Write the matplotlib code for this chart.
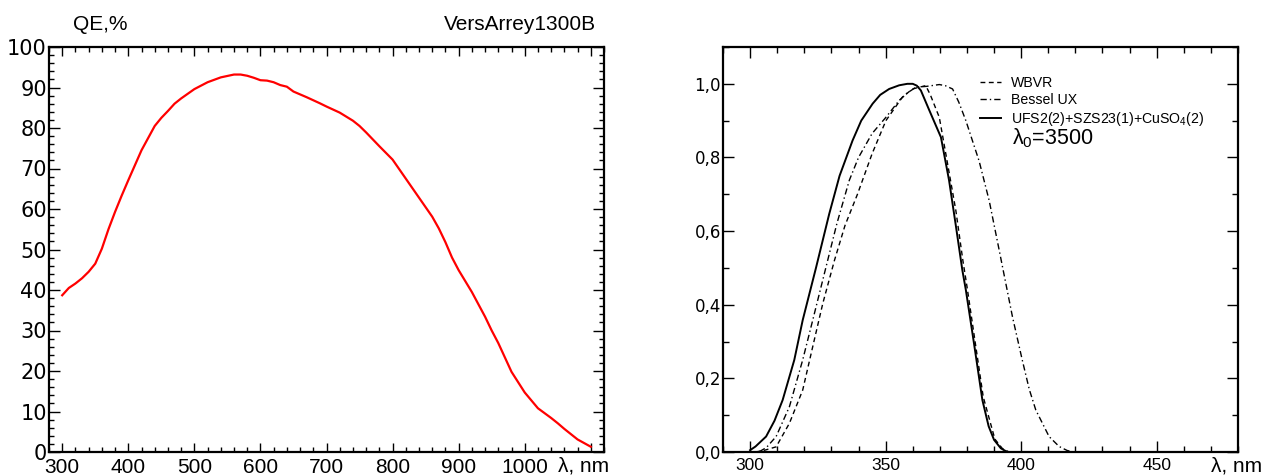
import matplotlib
matplotlib.use("Agg")
import matplotlib.pyplot as plt
from matplotlib.ticker import MultipleLocator, FuncFormatter

plt.rcParams['font.family'] = ['Liberation Sans', 'DejaVu Sans']
plt.rcParams['mathtext.fontset'] = 'custom'
plt.rcParams['mathtext.rm'] = 'Liberation Sans'
plt.rcParams['mathtext.it'] = 'Liberation Sans'
plt.rcParams['mathtext.bf'] = 'Liberation Sans'

# ---------- data: left panel (QE of VersArrey1300B) ----------
qe_wl = [300, 310, 320, 330, 340, 350, 360, 370, 380, 390, 400, 420, 440, 450,
         460, 470, 480, 500, 520, 540, 560, 570, 580, 590, 600, 610, 620, 630,
         640, 650, 670, 690, 700, 720, 740, 750, 760, 780, 800, 820, 840, 860,
         870, 880, 890, 900, 920, 940, 950, 960, 980, 1000, 1020, 1040, 1050,
         1060, 1080, 1100]
qe_val = [38.7, 40.5, 41.6, 42.9, 44.5, 46.5, 50.2, 55.0, 59.3, 63.3, 67.1,
          74.5, 80.5, 82.5, 84.2, 86.0, 87.3, 89.6, 91.3, 92.5, 93.2, 93.2,
          92.9, 92.4, 91.8, 91.7, 91.3, 90.6, 90.2, 89.0, 87.6, 86.1, 85.3,
          83.8, 81.8, 80.5, 78.9, 75.5, 72.2, 67.5, 62.8, 58.1, 55.2, 51.8,
          48.0, 44.9, 39.5, 33.4, 30.0, 26.9, 19.8, 14.7, 10.8, 8.4, 7.1, 5.7,
          3.1, 1.3]

# ---------- data: right panel (normalized passbands) ----------
wbvr_wl = [302, 305, 309.6, 314.5, 319.4, 323.1, 326.8, 331.1, 335, 339.6,
           345, 350.1, 356.2, 359.9, 362, 364.8, 366.5, 369.8, 372.2, 375.9,
           378.5, 380, 383, 386, 390.3, 393, 395.5]
wbvr_val = [0.0, 0.004, 0.014, 0.078, 0.168, 0.286, 0.403, 0.52, 0.615, 0.70,
            0.81, 0.90, 0.964, 0.986, 0.99, 0.995, 0.97, 0.909, 0.81, 0.656,
            0.52, 0.45, 0.30, 0.15, 0.035, 0.01, 0.0]

bessel_wl = [303.4, 306, 309.6, 314.5, 319.4, 323.1, 328.6, 332, 336.6, 340,
             345, 350.1, 355, 358, 361.2, 365, 369.8, 372, 374.7, 377, 379.6,
             384.5, 388.2, 391.9, 396.8, 400.4, 403, 405.4, 410.3, 414, 417,
             419.5]
bessel_val = [0.001, 0.012, 0.042, 0.123, 0.25, 0.358, 0.52, 0.62, 0.738, 0.80,
              0.865, 0.909, 0.955, 0.975, 0.991, 0.993, 0.998, 0.995, 0.986,
              0.95, 0.90, 0.79, 0.683, 0.548, 0.367, 0.25, 0.17, 0.114, 0.042,
              0.015, 0.004, 0.0]

ufs_wl = [300, 302, 305.9, 309, 312, 316.3, 319.4, 324.3, 329.2, 333, 337.8,
          341, 345.2, 348, 351.3, 355, 358, 360, 361.5, 363, 366, 370.4, 373.4,
          376, 378.3, 379.6, 382.6, 385.7, 388, 390, 392.5, 394.9]
ufs_val = [0.005, 0.015, 0.042, 0.085, 0.141, 0.25, 0.358, 0.50, 0.647, 0.75,
           0.846, 0.90, 0.946, 0.97, 0.986, 0.996, 1.0, 1.0, 0.995, 0.982,
           0.93, 0.855, 0.738, 0.61, 0.494, 0.44, 0.295, 0.141, 0.07, 0.033,
           0.01, 0.0]

labels = ['WBVR', 'Bessel UX', 'UFS2(2)+SZS23(1)+CuSO$_4$(2)']

W, H = 1266, 476
fig = plt.figure(figsize=(W / 100, H / 100), dpi=100)

def fx(px):
    return px / W

def fy(py):
    return 1 - py / H

# ---------- left panel ----------
axL = fig.add_axes([fx(49), fy(452), fx(604 - 49), (452 - 47) / H])
axL.plot(qe_wl, qe_val, color='#ff0000', lw=1.6)
axL.set_xlim(280, 1120)
axL.set_ylim(0, 100)
axL.xaxis.set_minor_locator(MultipleLocator(20))
axL.yaxis.set_major_locator(MultipleLocator(10))
axL.yaxis.set_minor_locator(MultipleLocator(2))
axL.set_xticks([300, 400, 500, 600, 700, 800, 900, 1000, 1100])
axL.set_xticklabels(['300', '400', '500', '600', '700', '800', '900', '1000', ''])
axL.tick_params(which='both', direction='in', top=True, right=True, width=1.0)
axL.tick_params(axis='x', which='major', length=6.5, labelsize=15, pad=4)
axL.tick_params(axis='y', which='major', length=8, pad=1.5)
axL.tick_params(which='minor', length=3.5)
for lab in axL.get_yticklabels():
    lab.set_fontfamily('DejaVu Sans')
    lab.set_fontsize(15)
for s in axL.spines.values():
    s.set_linewidth(1.6)
fig.text(fx(73), fy(25), 'QE,%', fontsize=15, ha='left', va='center')
fig.text(fx(596), fy(25), 'VersArrey1300B', fontsize=15, ha='right', va='center')
fig.text(fx(558), fy(466), 'λ, nm', fontsize=15, ha='left', va='center')

# ---------- right panel ----------
axR = fig.add_axes([fx(723), fy(452), fx(1238 - 723), (452 - 47) / H])
l1, = axR.plot(wbvr_wl, wbvr_val, color='black', lw=1.0, ls=(0, (3.5, 2.5)))
l2, = axR.plot(bessel_wl, bessel_val, color='black', lw=1.0,
               ls=(0, (4.5, 2.2, 1.0, 2.2)))
l3, = axR.plot(ufs_wl, ufs_val, color='black', lw=1.4)
axR.set_xlim(290, 480)
axR.set_ylim(0, 1.1)
axR.xaxis.set_major_locator(MultipleLocator(50))
axR.xaxis.set_minor_locator(MultipleLocator(10))
axR.yaxis.set_major_locator(MultipleLocator(0.2))
axR.yaxis.set_minor_locator(MultipleLocator(0.1))
axR.yaxis.set_major_formatter(FuncFormatter(lambda v, p: f"{v:.1f}".replace('.', ',')))
axR.tick_params(which='both', direction='in', top=True, right=True, width=1.0)
axR.tick_params(which='major', length=8)
axR.tick_params(axis='x', which='major', labelsize=12.5, pad=4)
axR.tick_params(axis='y', which='major', pad=1.5)
axR.tick_params(which='minor', length=4)
for lab in axR.get_yticklabels():
    lab.set_fontfamily('DejaVu Sans')
    lab.set_fontsize(12)
for s in axR.spines.values():
    s.set_linewidth(1.6)

leg = axR.legend([l1, l2, l3], labels, loc='upper left',
                 bbox_to_anchor=((980 - 723) / (1238 - 723), (452 - 76) / 405),
                 frameon=False, fontsize=10.2, handlelength=1.45,
                 handletextpad=0.75, labelspacing=0.22, borderaxespad=0,
                 borderpad=0)
fig.text(fx(1012), fy(144), 'λ$_0$=3500', fontsize=15.5, ha='left', va='baseline')
fig.text(fx(1211), fy(466), 'λ, nm', fontsize=15, ha='left', va='center')

fig.savefig('out.png', dpi=100)
